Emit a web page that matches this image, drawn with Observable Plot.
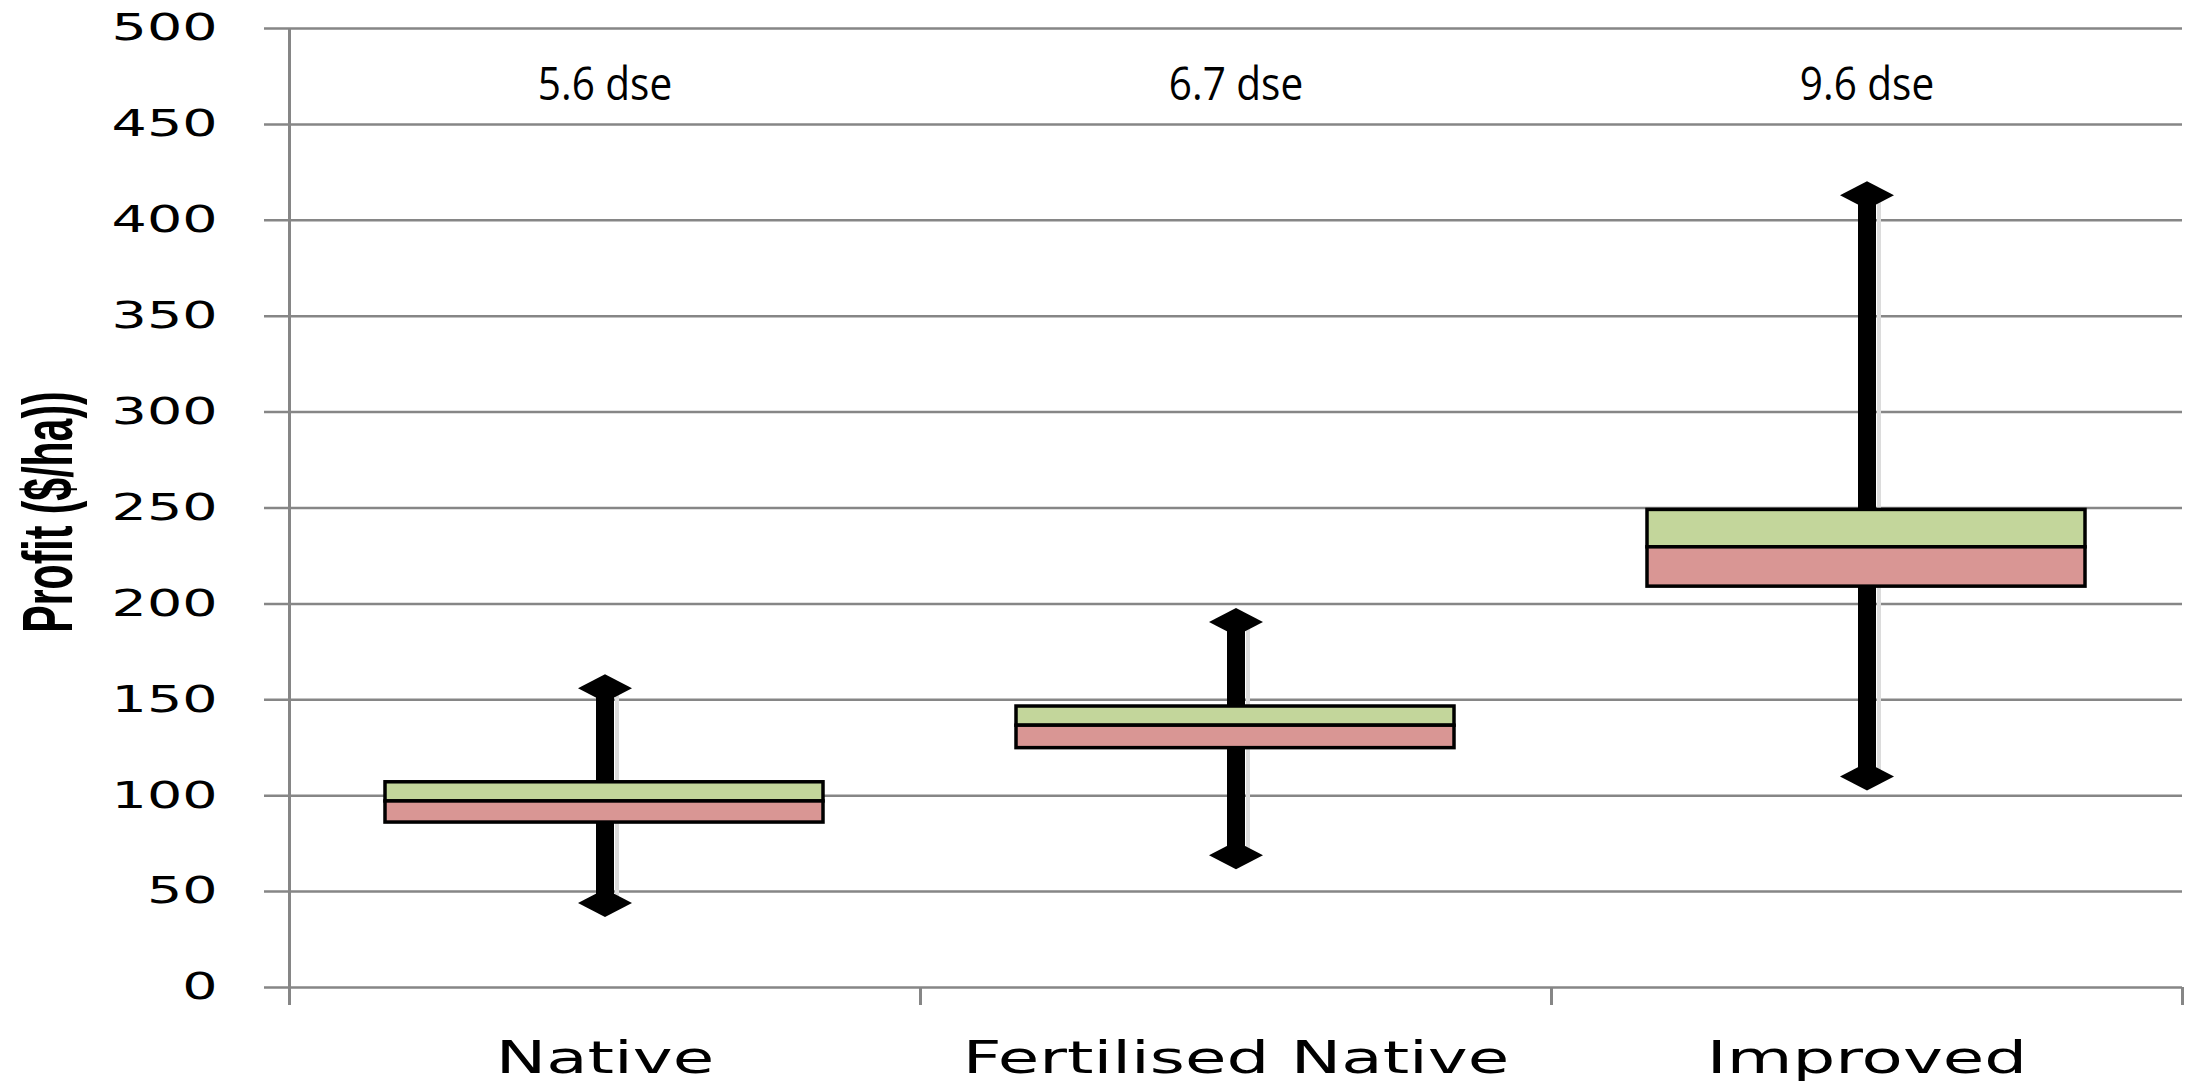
<!DOCTYPE html>
<html>
<head>
<meta charset="utf-8">
<script src="https://cdn.jsdelivr.net/npm/d3@7"></script>
<script src="https://cdn.jsdelivr.net/npm/@observablehq/plot@0.6"></script>
<style>
  html, body { margin: 0; padding: 0; background: #fff; }
  #chart { width: 2187px; height: 1081px; }
</style>
</head>
<body>
<div id="chart"></div>
<script>
// ---- data ----
const categories = ["Native", "Fertilised Native", "Improved"];
const maxVals    = [156, 190.5, 413];
const q3Vals     = [107, 146.5, 249];
const medVals    = [97, 136.5, 229.5];
const q1Vals     = [86, 124.8, 209];
const minVals    = [44, 69, 110];
const dseLabels  = ["5.6 dse", "6.7 dse", "9.6 dse"];
const yTicks     = [0, 50, 100, 150, 200, 250, 300, 350, 400, 450, 500];
const yLabel     = "Profit ($/ha))";

const rows = categories.map((c, i) => ({
  cat: c, max: maxVals[i], q3: q3Vals[i], med: medVals[i], q1: q1Vals[i], min: minVals[i], dse: dseLabels[i]
}));

// ---- layout / style ----
const W = 2187, H = 1081;
const mTop = 28, mBottom = 94, mLeft = 289, mRight = 5;
const band = (W - mLeft - mRight) / categories.length;
const plotH = H - mTop - mBottom;
const gray = "#868686";
const green = "#C3D69B";
const red = "#D99694";

const wideDiamond = {
  draw(ctx) {
    const w = 27, h = 14;
    ctx.moveTo(0, -h); ctx.lineTo(w, 0); ctx.lineTo(0, h); ctx.lineTo(-w, 0); ctx.closePath();
  }
};

const chart = Plot.plot({
  width: W, height: H,
  marginTop: mTop, marginBottom: mBottom, marginLeft: mLeft, marginRight: mRight,
  style: { background: "#fff", color: "#000", overflow: "visible" },
  x: { type: "band", domain: categories, padding: 0, axis: null },
  y: { domain: [0, 500], axis: null },
  marks: [
    // horizontal gridlines with outward tick
    Plot.gridY(yTicks, { stroke: gray, strokeOpacity: 1, strokeWidth: 2.5, insetLeft: -25 }),
    // left axis line
    Plot.ruleX([categories[0]], { x: d => d, dx: -band / 2, stroke: gray, strokeWidth: 3, insetBottom: -18 }),
    // category boundary ticks
    Plot.ruleX(categories, { x: d => d, dx: band / 2, stroke: gray, strokeWidth: 3, insetTop: plotH, insetBottom: -18 }),
    // y tick labels
    Plot.axisY(yTicks, { tickSize: 0, tickPadding: 72, fontSize: 37, fontFamily: "DejaVu Sans", label: null }),
    // x tick labels
    Plot.axisX({ tickSize: 0, tickPadding: 54, fontSize: 45, fontFamily: "DejaVu Sans", label: null }),
    // y axis title
    Plot.text([yLabel], {
      text: d => d, frameAnchor: "left", textAnchor: "middle", lineAnchor: "middle",
      dx: -240, dy: 4, rotate: -90,
      fontSize: 41, fontWeight: "bold", fontFamily: "'Liberation Sans Narrow', 'Arial Narrow', 'Liberation Sans', sans-serif"
    }),
    // whisker shadow
    Plot.ruleX(rows, { x: "cat", y1: "min", y2: "max", dx: 12, stroke: "#dcdcdc", strokeWidth: 4 }),
    // whiskers
    Plot.ruleX(rows, { x: "cat", y1: "min", y2: "max", stroke: "#000", strokeWidth: 18 }),
    // boxes
    Plot.barY(rows, { x: "cat", y1: "med", y2: "q3", fill: green, stroke: "#000", strokeWidth: 3.5, insetLeft: 96, insetRight: 97 }),
    Plot.barY(rows, { x: "cat", y1: "q1", y2: "med", fill: red, stroke: "#000", strokeWidth: 3.5, insetLeft: 96, insetRight: 97 }),
    // diamonds
    Plot.dot(rows, { x: "cat", y: "max", symbol: wideDiamond, fill: "#000", stroke: null, r: 10 }),
    Plot.dot(rows, { x: "cat", y: "min", symbol: wideDiamond, fill: "#000", stroke: null, r: 10 }),
    // dse labels
    Plot.text(rows, { x: "cat", text: "dse", frameAnchor: "top", lineAnchor: "middle", dy: 57, fontSize: 45, fontFamily: "'Open Sans', sans-serif", fill: "#000" })
  ]
});

document.getElementById("chart").appendChild(chart);

// stretch some texts like the reference
function stretchEl(t, sx, sy) {
  let tr = t.getAttribute("transform");
  if (!tr) {
    const x = +(t.getAttribute("x") || 0), y = +(t.getAttribute("y") || 0);
    t.removeAttribute("x"); t.removeAttribute("y");
    tr = `translate(${x},${y})`;
  }
  t.setAttribute("transform", `${tr} scale(${sx},${sy})`);
}
chart.querySelectorAll('g[aria-label="y-axis tick label"] text').forEach(t => stretchEl(t, 1.5, 1));
chart.querySelectorAll('g[aria-label="x-axis tick label"] text').forEach(t => stretchEl(t, 1.5, 1));
chart.querySelectorAll("text").forEach(t => {
  const s = t.textContent;
  if (s === yLabel) stretchEl(t, 1, 1.7);
  else if (dseLabels.includes(s)) stretchEl(t, 0.9, 1);
});
</script>
</body>
</html>
